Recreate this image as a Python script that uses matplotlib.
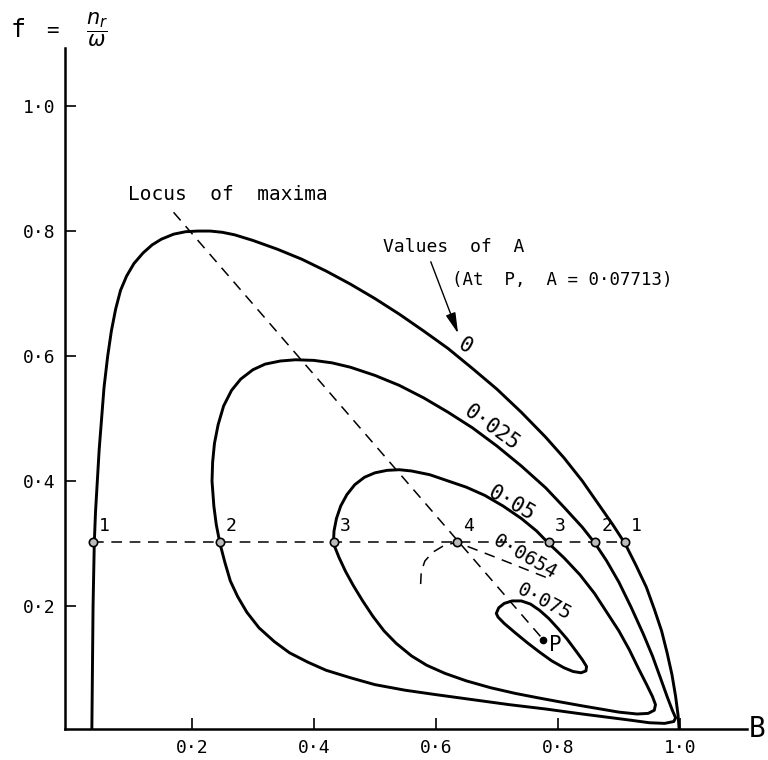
import matplotlib
matplotlib.use('Agg')
import matplotlib.pyplot as plt

# values of A: contour curves f(B)
a0_B = [0.036, 0.0365, 0.037, 0.0375, 0.038, 0.039, 0.040, 0.042, 0.045, 0.048, 0.052, 0.056, 0.062, 0.068,
        0.075, 0.083, 0.093, 0.105, 0.12, 0.135, 0.15, 0.17, 0.19, 0.21, 0.23, 0.25, 0.27, 0.30, 0.34, 0.38,
        0.42, 0.46, 0.50, 0.54, 0.58, 0.62, 0.66, 0.70, 0.74, 0.78, 0.81, 0.84, 0.865, 0.89, 0.91, 0.928,
        0.945, 0.958, 0.97, 0.979, 0.987, 0.993, 0.997, 0.999]
a0_f = [0.0, 0.05, 0.10, 0.15, 0.20, 0.25, 0.30, 0.35, 0.40, 0.45, 0.50, 0.55, 0.60, 0.64,
        0.675, 0.705, 0.728, 0.748, 0.765, 0.778, 0.787, 0.795, 0.799, 0.800, 0.800, 0.798, 0.794, 0.785,
        0.771, 0.755, 0.736, 0.715, 0.692, 0.667, 0.640, 0.612, 0.580, 0.547, 0.510, 0.470, 0.437, 0.400,
        0.365, 0.330, 0.300, 0.265, 0.230, 0.195, 0.16, 0.125, 0.09, 0.055, 0.025, 0.0]

a025_B = [0.233, 0.234, 0.237, 0.243, 0.252, 0.265, 0.28, 0.30, 0.32, 0.345, 0.37, 0.40, 0.43, 0.46, 0.50,
          0.54, 0.58, 0.62, 0.66, 0.70, 0.74, 0.78, 0.81, 0.84, 0.861, 0.88, 0.90, 0.92, 0.94, 0.955, 0.968,
          0.979, 0.988, 0.993, 0.99, 0.975, 0.95, 0.92, 0.88, 0.84, 0.78, 0.72, 0.66, 0.60, 0.55, 0.50,
          0.46, 0.42, 0.39, 0.36, 0.335, 0.31, 0.29, 0.275, 0.263, 0.254, 0.246, 0.24, 0.236]
a025_f = [0.40, 0.43, 0.46, 0.49, 0.52, 0.545, 0.563, 0.578, 0.587, 0.592, 0.594, 0.593, 0.589, 0.582, 0.569,
          0.553, 0.533, 0.51, 0.485, 0.456, 0.424, 0.389, 0.358, 0.326, 0.30, 0.272, 0.238, 0.198, 0.155, 0.12,
          0.085, 0.055, 0.032, 0.021, 0.015, 0.012, 0.013, 0.017, 0.022, 0.027, 0.035, 0.042, 0.05, 0.058,
          0.065, 0.074, 0.085, 0.097, 0.11, 0.125, 0.143, 0.165, 0.19, 0.215, 0.24, 0.27, 0.30, 0.33, 0.36]

a05_B = [0.432, 0.433, 0.437, 0.444, 0.454, 0.467, 0.483, 0.50, 0.52, 0.54, 0.56, 0.59, 0.62, 0.65, 0.68,
         0.71, 0.74, 0.765, 0.785, 0.81, 0.836, 0.86, 0.88, 0.90, 0.917, 0.932, 0.945, 0.955, 0.96, 0.958,
         0.948, 0.93, 0.90, 0.87, 0.84, 0.80, 0.767, 0.73, 0.69, 0.65, 0.615, 0.585, 0.56, 0.535, 0.515,
         0.497, 0.48, 0.465, 0.452, 0.441]
a05_f = [0.30, 0.32, 0.34, 0.36, 0.378, 0.394, 0.406, 0.413, 0.417, 0.418, 0.416, 0.41, 0.40, 0.39, 0.377,
         0.36, 0.34, 0.32, 0.30, 0.277, 0.25, 0.22, 0.19, 0.16, 0.13, 0.10, 0.075, 0.055, 0.042, 0.033,
         0.028, 0.027, 0.03, 0.035, 0.04, 0.047, 0.053, 0.06, 0.069, 0.08, 0.092, 0.105, 0.12, 0.14, 0.16,
         0.183, 0.208, 0.232, 0.255, 0.278]

a075_B = [0.699, 0.703, 0.712, 0.725, 0.74, 0.755, 0.77, 0.785, 0.80, 0.815, 0.828, 0.84, 0.847, 0.846,
          0.838, 0.825, 0.81, 0.79, 0.77, 0.75, 0.73, 0.712, 0.702]
a075_f = [0.188, 0.197, 0.204, 0.208, 0.208, 0.203, 0.193, 0.18, 0.164, 0.147, 0.13, 0.114, 0.103, 0.096,
          0.093, 0.095, 0.101, 0.112, 0.126, 0.141, 0.157, 0.172, 0.182]

# A = 0.0654 (dashed), through point 4
a0654_B = [0.575, 0.576, 0.582, 0.595, 0.612, 0.634, 0.70, 0.79]
a0654_f = [0.235, 0.255, 0.272, 0.286, 0.296, 0.302, 0.277, 0.242]

# locus of maxima, ends at P
locus_B = [0.17, 0.776]
locus_f = [0.83, 0.146]
P = (0.776, 0.146)

# f = 0.3 line and its crossings
f_line = 0.302
cross_B = [0.038, 0.246, 0.433, 0.634, 0.785, 0.861, 0.91]
cross_lab = ['1', '2', '3', '4', '3', '2', '1']

ticks = [0.2, 0.4, 0.6, 0.8, 1.0]
tick_lab = ['0·2', '0·4', '0·6', '0·8', '1·0']

plt.rcParams['font.family'] = ['DejaVu Sans Mono', 'DejaVu Sans']
fig = plt.figure(figsize=(7.68, 7.6), dpi=100)
ax = fig.add_axes([65/768, 31/760, 682/768, 681/760])
ax.set_xlim(-0.008, 1.11)
ax.set_ylim(0.003, 1.093)

ax.plot(a0_B, a0_f, color='black', lw=2.1, solid_joinstyle='round', solid_capstyle='round')
# closed loops
for bs, fs in [(a025_B, a025_f), (a05_B, a05_f), (a075_B, a075_f)]:
    ax.fill(bs, fs, fill=False, edgecolor='black', lw=2.1, joinstyle='round')

dash = (0, (7, 5))
ax.plot(a0654_B, a0654_f, color='black', lw=1.1, linestyle=dash)
ax.plot(locus_B, locus_f, color='black', lw=1.1, linestyle=dash)
ax.plot([cross_B[0], cross_B[-1]], [f_line, f_line], color='black', lw=1.1, linestyle=dash)

ax.plot(cross_B, [f_line] * len(cross_B), 'o', ms=6, mfc='#bbbbbb', mec='black', mew=1.2)
for b, lab in zip(cross_B, cross_lab):
    ax.text(b + 0.01, f_line + 0.012, lab, fontsize=13, ha='left', va='bottom')

ax.plot(*P, 'o', ms=4.5, color='black')
ax.text(P[0] + 0.01, P[1] - 0.008, 'P', fontsize=15, ha='left', va='center')

# curve labels
ax.text(0.648, 0.616, '0', fontsize=15, ha='center', va='center', rotation=-30)
ax.text(0.692, 0.486, '0·025', fontsize=15, ha='center', va='center', rotation=-36)
ax.text(0.724, 0.364, '0·05', fontsize=15, ha='center', va='center', rotation=-30)
ax.text(0.746, 0.279, '0·0654', fontsize=14, ha='center', va='center', rotation=-30)
ax.text(0.777, 0.207, '0·075', fontsize=14, ha='center', va='center', rotation=-28)

ax.text(0.096, 0.858, 'Locus  of  maxima', fontsize=14, ha='left', va='center')
ax.text(0.513, 0.775, 'Values  of  A', fontsize=13, ha='left', va='center')
ax.text(0.626, 0.722, '(At  P,  A = 0·07713)', fontsize=12.5, ha='left', va='center')
ax.annotate('', xy=(0.638, 0.632), xytext=(0.59, 0.755),
            arrowprops=dict(arrowstyle='-|>,head_width=0.22,head_length=0.9', color='black', lw=1.0,
                            mutation_scale=14))

for side in ['top', 'right']:
    ax.spines[side].set_visible(False)
for side in ['left', 'bottom']:
    ax.spines[side].set_linewidth(1.8)
ax.set_xticks(ticks)
ax.set_xticklabels(tick_lab)
ax.set_yticks(ticks)
ax.set_yticklabels(tick_lab)
ax.tick_params(direction='in', length=8, width=1.2, labelsize=13, pad=7)

fig.text(757/768, 31/760, 'B', fontsize=20, ha='center', va='center')
fig.text(18/768, 1 - 30/760, 'f', fontsize=18, ha='center', va='center')
fig.text(52/768, 1 - 31/760, '=', fontsize=15, ha='center', va='center')
fig.text(97/768, 1 - 30/760, r'$\dfrac{n_r}{\omega}$', fontsize=15, ha='center', va='center')

fig.savefig('out.png', dpi=100)
